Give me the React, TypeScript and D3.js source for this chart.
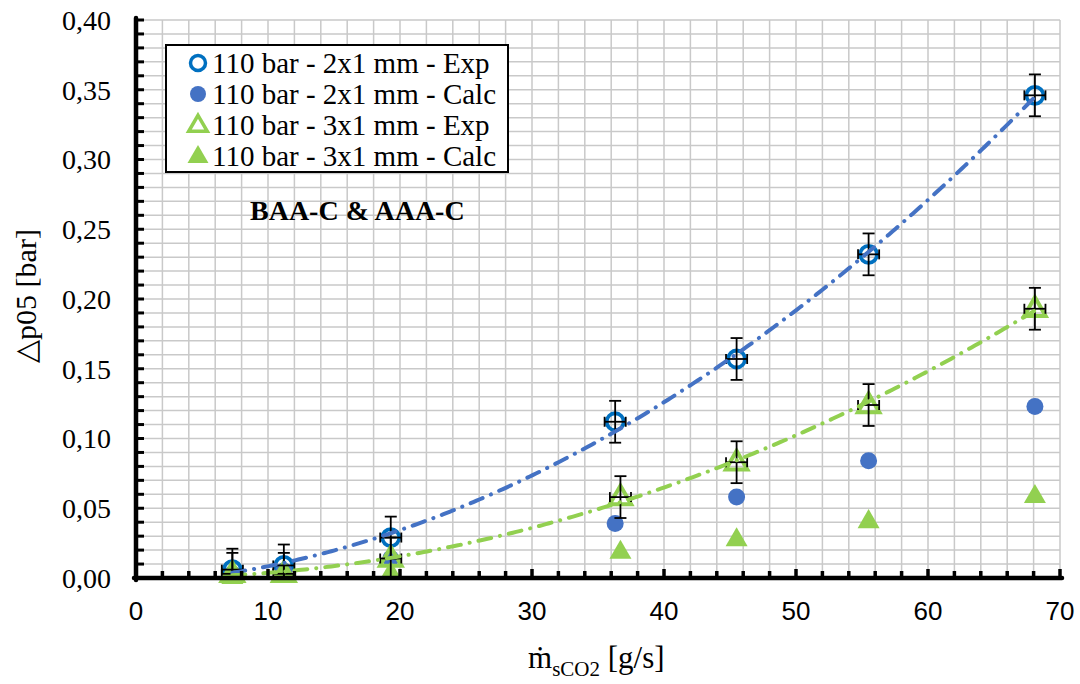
import React from 'react'
import * as d3 from 'd3'

// values
const massFlow2x1 = [7.3, 11.2, 19.3, 36.3, 45.5, 55.5, 68.1]
const dpExp2x1 = [0.006, 0.009, 0.029, 0.112, 0.157, 0.232, 0.346]
const dpCalc2x1 = [0.003, 0.005, 0.014, 0.039, 0.058, 0.084, 0.123]

const massFlow3x1 = [7.3, 11.2, 19.3, 36.7, 45.5, 55.5, 68.1]
const dpExp3x1 = [0.003, 0.003, 0.014, 0.058, 0.083, 0.124, 0.193]
const dpCalc3x1 = [0.001, 0.003, 0.004, 0.019, 0.028, 0.041, 0.059]

const errDp = 0.015
const errFlow = 0.8

const xTicks = [0, 10, 20, 30, 40, 50, 60, 70]
const yTicks = [0, 0.05, 0.1, 0.15, 0.2, 0.25, 0.3, 0.35, 0.4]

const legendLabels = [
  '110 bar - 2x1 mm - Exp',
  '110 bar - 2x1 mm - Calc',
  '110 bar - 3x1 mm - Exp',
  '110 bar - 3x1 mm - Calc',
]

const blueOpen = '#0070C0'
const blue = '#4472C4'
const green = '#92D050'
const grid = '#c9c9c9'

// least squares 2nd order polynomial, like the spreadsheet trendline
function polyFit2(xs: number[], ys: number[]) {
  let s0 = 0, s1 = 0, s2 = 0, s3 = 0, s4 = 0, t0 = 0, t1 = 0, t2 = 0
  xs.forEach((x, i) => {
    const y = ys[i]
    s0 += 1; s1 += x; s2 += x * x; s3 += x * x * x; s4 += x * x * x * x
    t0 += y; t1 += x * y; t2 += x * x * y
  })
  const det = (m: number[][]) =>
    m[0][0] * (m[1][1] * m[2][2] - m[1][2] * m[2][1]) -
    m[0][1] * (m[1][0] * m[2][2] - m[1][2] * m[2][0]) +
    m[0][2] * (m[1][0] * m[2][1] - m[1][1] * m[2][0])
  const D = det([[s0, s1, s2], [s1, s2, s3], [s2, s3, s4]])
  const c0 = det([[t0, s1, s2], [t1, s2, s3], [t2, s3, s4]]) / D
  const c1 = det([[s0, t0, s2], [s1, t1, s3], [s2, t2, s4]]) / D
  const c2 = det([[s0, s1, t0], [s1, s2, t1], [s2, s3, t2]]) / D
  return (x: number) => c0 + c1 * x + c2 * x * x
}

const W = 1080
const H = 684

export default function App() {
  const x = d3.scaleLinear().domain([0, 70]).range([136, 1060])
  const y = d3.scaleLinear().domain([0, 0.4]).range([578, 20])

  const fmt = (v: number) => d3.format('.2f')(v).replace('.', ',')

  const vGrid = d3.range(2, 70.1, 2)
  const hGrid = d3.range(1, 41).map(i => i / 100)
  const xMinor = d3.range(2, 70.1, 2)
  const yMinor = d3.range(1, 41).map(i => i / 100)

  const line = d3.line<[number, number]>().x(d => x(d[0])).y(d => y(d[1]))
  const trend = (xs: number[], ys: number[]) => {
    const f = polyFit2(xs, ys)
    const pts: [number, number][] = d3.range(xs[0], xs[xs.length - 1], 0.25).map(v => [v, f(v)])
    pts.push([xs[xs.length - 1], f(xs[xs.length - 1])])
    return line(pts) || ''
  }

  const tri = d3.symbol().type(d3.symbolTriangle)

  const errorBars = (xs: number[], ys: number[], key: string) =>
    xs.map((xv, i) => {
      const cx = x(xv), cy = y(ys[i])
      const top = y(ys[i] + errDp), bot = y(ys[i] - errDp)
      const l = x(xv - errFlow), r = x(xv + errFlow)
      return (
        <g key={key + i} stroke="#000" strokeWidth={1.8}>
          <line x1={cx} x2={cx} y1={top} y2={bot} />
          <line x1={cx - 6} x2={cx + 6} y1={top} y2={top} />
          <line x1={cx - 6} x2={cx + 6} y1={bot} y2={bot} />
          <line x1={l} x2={r} y1={cy} y2={cy} />
          <line x1={l} x2={l} y1={cy - 5} y2={cy + 5} />
          <line x1={r} x2={r} y1={cy - 5} y2={cy + 5} />
        </g>
      )
    })

  const serif = '"Liberation Serif", "Times New Roman", serif'
  const sans = '"Liberation Sans", Arial, sans-serif'

  const legendMarker = (i: number, cx: number, cy: number) => {
    if (i === 0) return <circle cx={cx} cy={cy} r={7.5} fill="#fff" stroke={blueOpen} strokeWidth={3.5} />
    if (i === 1) return <circle cx={cx} cy={cy} r={8} fill={blue} />
    if (i === 2) return <path d={tri.size(150)() || ''} transform={`translate(${cx},${cy + 1})`} fill="#fff" stroke={green} strokeWidth={3.5} />
    return <path d={tri.size(190)() || ''} transform={`translate(${cx},${cy + 1})`} fill={green} />
  }

  return (
    <svg width={W} height={H} style={{ position: 'absolute', left: 0, top: 0, background: '#fff' }}>
      <defs>
        <clipPath id="plotClip">
          <rect x={x(0)} y={0} width={x(70) - x(0) + 10} height={y(0)} />
        </clipPath>
      </defs>

      {/* grid */}
      <g stroke={grid} strokeWidth={1.5}>
        {vGrid.map(v => <line key={'vg' + v} x1={x(v)} x2={x(v)} y1={y(0)} y2={y(0.4)} />)}
        {hGrid.map(v => <line key={'hg' + v} x1={x(0)} x2={x(70)} y1={y(v)} y2={y(v)} />)}
      </g>

      {/* markers, in series order */}
      {massFlow2x1.map((v, i) => (
        <circle key={'e2' + i} cx={x(v)} cy={y(dpExp2x1[i])} r={8.5} fill="none" stroke={blueOpen} strokeWidth={3.8} />
      ))}
      {massFlow2x1.map((v, i) => (
        <circle key={'c2' + i} cx={x(v)} cy={y(dpCalc2x1[i])} r={8.5} fill={blue} />
      ))}
      {massFlow3x1.map((v, i) => (
        <path key={'e3' + i} d={tri.size(200)() || ''} transform={`translate(${x(v)},${y(dpExp3x1[i]) + 1})`}
          fill="none" stroke={green} strokeWidth={4} />
      ))}
      {massFlow3x1.map((v, i) => (
        <path key={'c3' + i} d={tri.size(210)() || ''} transform={`translate(${x(v)},${y(dpCalc3x1[i]) + 1})`} fill={green} />
      ))}

      {/* error bars */}
      <g clipPath="url(#plotClip)">
        {errorBars(massFlow2x1, dpExp2x1, 'eb2')}
        {errorBars(massFlow3x1, dpExp3x1, 'eb3')}
      </g>

      {/* trendlines */}
      <path d={trend(massFlow2x1, dpExp2x1)} fill="none" stroke={blue} strokeWidth={4}
        strokeDasharray="13 9 0.1 9" strokeLinecap="round" />
      <path d={trend(massFlow3x1, dpExp3x1)} fill="none" stroke={green} strokeWidth={4}
        strokeDasharray="13 9 0.1 9" strokeLinecap="round" />

      {/* axes */}
      <g stroke="#000">
        {xMinor.map(v => (
          <line key={'xt' + v} x1={x(v)} x2={x(v)} y1={y(0)} y2={y(0) - (v % 10 === 0 ? 9 : 7)} strokeWidth={3.5} />
        ))}
        {yMinor.map(v => (
          <line key={'yt' + v} x1={x(0)} x2={x(0) + 8} y1={y(v)} y2={y(v)} strokeWidth={3} />
        ))}
        <line x1={x(0) - 2} x2={x(70) + 2} y1={y(0)} y2={y(0)} strokeWidth={4.5} strokeLinecap="round" />
        <line x1={x(0)} x2={x(0)} y1={y(0.4) - 2} y2={y(0) + 2} strokeWidth={4.5} strokeLinecap="round" />
      </g>

      {/* tick labels */}
      <g fontFamily={serif} fontSize={28} textAnchor="end" fill="#000">
        {yTicks.map(v => (
          <text key={'yl' + v} x={111} y={y(v)} dy="0.35em">{fmt(v)}</text>
        ))}
      </g>
      <g fontFamily={sans} fontSize={26} textAnchor="middle" fill="#000">
        {xTicks.map(v => (
          <text key={'xl' + v} x={x(v)} y={620}>{v}</text>
        ))}
      </g>

      {/* axis titles */}
      <text transform="translate(36,296) rotate(-90)" textAnchor="middle" fontFamily={serif} fontSize={30}>
        △p05 [bar]
      </text>
      <text x={528} y={668} fontFamily={serif} fontSize={31}>
        ṁ<tspan fontSize={21} dy={8}>sCO2</tspan><tspan dy={-8}> [g/s]</tspan>
      </text>

      {/* annotation */}
      <text x={250} y={220} fontFamily={serif} fontSize={28} fontWeight="bold">BAA-C &amp; AAA-C</text>

      {/* legend */}
      <rect x={166} y={45} width={342} height={127} fill="#fff" stroke="#000" strokeWidth={2} />
      {legendLabels.map((t, i) => {
        const cy = 63 + i * 31
        return (
          <g key={'lg' + i}>
            {legendMarker(i, 198, cy)}
            <text x={212} y={cy} dy="0.35em" fontFamily={serif} fontSize={29}>{t}</text>
          </g>
        )
      })}
    </svg>
  )
}
